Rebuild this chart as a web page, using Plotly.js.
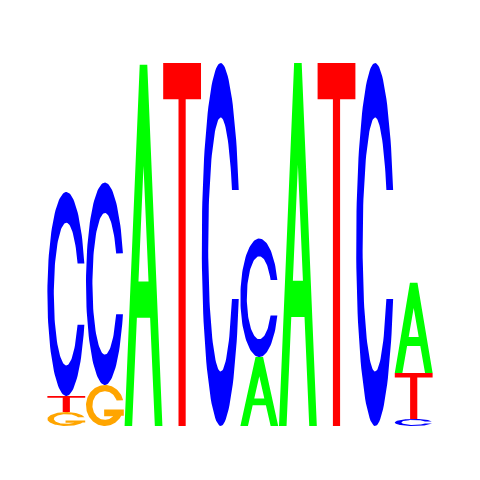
<!DOCTYPE html>
<html>
<head>
<meta charset="utf-8">
<script src="https://cdn.plot.ly/plotly-3.0.1.min.js"></script>
<style>html,body{margin:0;padding:0;background:#fff;}#chart{width:480px;height:480px;}</style>
</head>
<body>
<div id="chart"></div>
<script>
// ---- data (information content in bits, per position) ----
const positions = [1, 2, 3, 4, 5, 6, 7, 8, 9, 10];
const bitsA = [0, 0, 1.99, 0, 0, 0.38, 2.0, 0, 0, 0.497];
const bitsC = [1.124, 1.115, 0, 0, 2.0, 0.653, 0, 0, 2.0, 0.039];
const bitsG = [0.077, 0.226, 0, 0, 0, 0, 0, 0, 0, 0];
const bitsT = [0.088, 0, 0, 2.0, 0, 0, 0, 2.0, 0, 0.253];
const letters = ['A', 'C', 'G', 'T'];
const letterColors = {A: '#00FF00', C: '#0000FF', G: '#FFA500', T: '#FF0000'};

// ---- glyph outlines in a unit box ----
function ell(cx, cy, rx, ry, deg) {
  const r = deg * Math.PI / 180;
  return [cx + rx * Math.cos(r), cy + ry * Math.sin(r)];
}
function arc(cx, cy, rx, ry, a0, a1, step) {
  const pts = [];
  const n = Math.max(2, Math.ceil(Math.abs(a1 - a0) / step));
  for (let k = 0; k <= n; k++) pts.push(ell(cx, cy, rx, ry, a0 + (a1 - a0) * k / n));
  return pts;
}
function glyph(ch) {
  if (ch === 'A') {
    return [[0,0],[0.2,0],[0.325,0.30],[0.675,0.30],[0.8,0],[1,0],[0.6,1],[0.5,1],
            [0.5,0.72],[0.633,0.40],[0.367,0.40],[0.5,0.72],[0.5,1],[0.4,1],[0,0]];
  }
  if (ch === 'T') {
    return [[0,1],[1,1],[1,0.9],[0.595,0.9],[0.595,0],[0.405,0],[0.405,0.9],[0,0.9],[0,1]];
  }
  if (ch === 'C') {
    const outer = arc(0.5, 0.5, 0.5, 0.5, 17.5, 342.5, 3);
    const inner = arc(0.5, 0.5, 0.33, 0.35, 334.6, 25.4, 3);
    const p = outer.concat(inner); p.push(outer[0]); return p;
  }
  // G
  const outer = arc(0.5, 0.5, 0.5, 0.5, 15, 330, 3);
  const bar = [[1.0, 0.25], [1.0, 0.40], [0.48, 0.40], [0.48, 0.24]];
  const inner = arc(0.5, 0.5, 0.33, 0.35, 312, 20, 3);
  const p = outer.concat(bar, inner); p.push(outer[0]); return p;
}

// ---- build stacked letters ----
const bits = {A: bitsA, C: bitsC, G: bitsG, T: bitsT};
const xs = {A: [], C: [], G: [], T: []};
const ys = {A: [], C: [], G: [], T: []};
const pad = 0.01;
positions.forEach((pos, i) => {
  const stack = letters.map(l => ({l: l, h: bits[l][i]})).filter(o => o.h > 0)
                       .sort((a, b) => a.h - b.h);
  let y0 = 0;
  stack.forEach(o => {
    glyph(o.l).forEach(([gx, gy]) => {
      xs[o.l].push(pos - 0.5 + pad + gx * (1 - 2 * pad));
      ys[o.l].push(y0 + gy * o.h);
    });
    xs[o.l].push(null); ys[o.l].push(null);
    y0 += o.h;
  });
});

const traces = letters.map(l => ({
  type: 'scatter', mode: 'lines', name: l,
  x: xs[l], y: ys[l],
  fill: 'toself', fillcolor: letterColors[l],
  line: {width: 0, color: letterColors[l]},
  hoverinfo: 'skip', showlegend: false
}));

const layout = {
  width: 480, height: 480, autosize: false,
  margin: {l: 47, r: 47, t: 63, b: 54, pad: 0},
  paper_bgcolor: '#ffffff', plot_bgcolor: '#ffffff',
  xaxis: {range: [0.5, 10.5], visible: false, fixedrange: true},
  yaxis: {range: [0, 2], visible: false, fixedrange: true},
  showlegend: false
};
Plotly.newPlot('chart', traces, layout, {staticPlot: true, displayModeBar: false});
</script>
</body>
</html>
